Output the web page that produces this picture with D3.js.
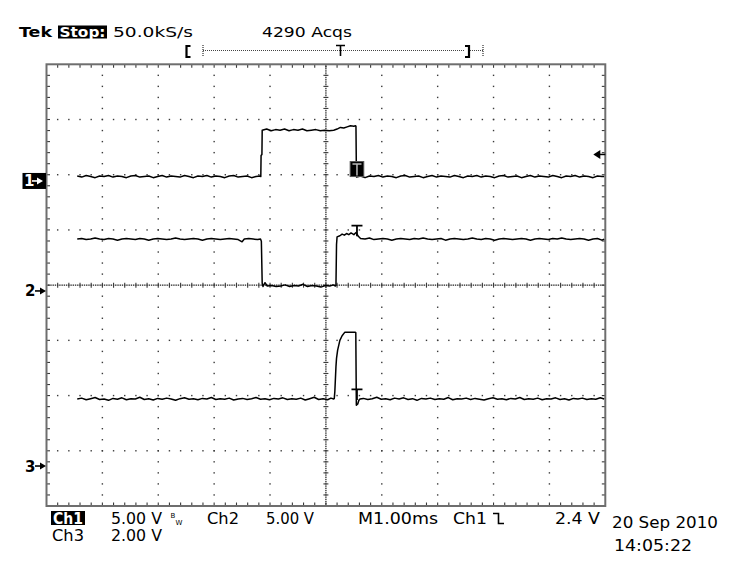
<!DOCTYPE html>
<html>
<head>
<meta charset="utf-8">
<script src="https://cdn.jsdelivr.net/npm/d3@7"></script>
<style>
body { margin: 0; background: #fff; }
text { font-family: "DejaVu Sans", sans-serif; }
</style>
</head>
<body>
<div id="scope"></div>
<script>
// waveforms: [time in ms, volts]
const ch1Trace = [
    [0.55, 0.45], [0.63, 0.35], [0.71, 0.5], [0.79, 0.4], [0.87, 0.3], [0.95, 0.45], [1.03, 0.4], [1.11, 0.5],
    [1.19, 0.35], [1.27, 0.45], [1.35, 0.4], [1.43, 0.3], [1.51, 0.45], [1.59, 0.5], [1.67, 0.35], [1.75, 0.4],
    [1.83, 0.45], [1.91, 0.3], [1.99, 0.4], [2.07, 0.5], [2.15, 0.35], [2.23, 0.45], [2.31, 0.4], [2.39, 0.35],
    [2.47, 0.5], [2.55, 0.4], [2.63, 0.3], [2.71, 0.45], [2.79, 0.4], [2.87, 0.5], [2.95, 0.35], [3.03, 0.45],
    [3.11, 0.4], [3.19, 0.3], [3.27, 0.45], [3.35, 0.5], [3.43, 0.35], [3.51, 0.4], [3.59, 0.45], [3.67, 0.3],
    [3.75, 0.4], [3.82, 0.45],
    [3.835, 0.4], [3.84, 2.3], [3.855, 2.4], [3.86, 4.6],
    [3.94, 4.7], [4.02, 4.55], [4.10, 4.65], [4.18, 4.6], [4.26, 4.7], [4.34, 4.55], [4.42, 4.65], [4.50, 4.6],
    [4.58, 4.7], [4.66, 4.55], [4.74, 4.6], [4.82, 4.65], [4.90, 4.55], [4.98, 4.6], [5.06, 4.55], [5.14, 4.6],
    [5.20, 4.7], [5.26, 4.85], [5.32, 4.8], [5.38, 4.9], [5.44, 5.0], [5.50, 4.95], [5.53, 5.0],
    [5.538, 4.95], [5.545, 1.0], [5.55, 0.35],
    [5.62, 0.45], [5.70, 0.3], [5.78, 0.45], [5.86, 0.4], [5.94, 0.5], [6.02, 0.35], [6.10, 0.45], [6.18, 0.4],
    [6.26, 0.3], [6.34, 0.45], [6.42, 0.5], [6.50, 0.35], [6.58, 0.4], [6.66, 0.45], [6.74, 0.3], [6.82, 0.4],
    [6.90, 0.5], [6.98, 0.35], [7.06, 0.45], [7.14, 0.4], [7.22, 0.35], [7.30, 0.5], [7.38, 0.4], [7.46, 0.3],
    [7.54, 0.45], [7.62, 0.4], [7.70, 0.5], [7.78, 0.35], [7.86, 0.45], [7.94, 0.4], [8.02, 0.3], [8.10, 0.45],
    [8.18, 0.5], [8.26, 0.35], [8.34, 0.4], [8.42, 0.45], [8.50, 0.3], [8.58, 0.4], [8.66, 0.5], [8.74, 0.35],
    [8.82, 0.45], [8.90, 0.4], [8.98, 0.35], [9.06, 0.5], [9.14, 0.4], [9.22, 0.3], [9.30, 0.45], [9.38, 0.4],
    [9.46, 0.5], [9.54, 0.35], [9.62, 0.45], [9.70, 0.4], [9.78, 0.3], [9.86, 0.45], [9.94, 0.4], [9.98, 0.4]
]

const ch2Trace = [
    [0.55, 4.7], [0.63, 4.75], [0.71, 4.65], [0.79, 4.7], [0.87, 4.8], [0.95, 4.7], [1.03, 4.65], [1.11, 4.75],
    [1.19, 4.7], [1.27, 4.6], [1.35, 4.7], [1.43, 4.75], [1.51, 4.7], [1.59, 4.65], [1.67, 4.75], [1.75, 4.7],
    [1.83, 4.6], [1.91, 4.7], [1.99, 4.75], [2.07, 4.7], [2.15, 4.65], [2.23, 4.7], [2.31, 4.8], [2.39, 4.7],
    [2.47, 4.65], [2.55, 4.7], [2.63, 4.75], [2.71, 4.7], [2.79, 4.6], [2.87, 4.7], [2.95, 4.75], [3.03, 4.7],
    [3.11, 4.65], [3.19, 4.7], [3.27, 4.75], [3.35, 4.7], [3.43, 4.65], [3.50, 4.45], [3.54, 4.7], [3.62, 4.75],
    [3.70, 4.7], [3.78, 4.65], [3.83, 4.7],
    [3.845, 4.5], [3.86, 0.7], [3.875, 0.4],
    [3.91, 0.75], [3.95, 0.45], [4.03, 0.5], [4.11, 0.4], [4.19, 0.45], [4.27, 0.55], [4.35, 0.4], [4.43, 0.5],
    [4.51, 0.45], [4.59, 0.6], [4.67, 0.4], [4.75, 0.5], [4.83, 0.45], [4.91, 0.35], [4.99, 0.5], [5.07, 0.45],
    [5.13, 0.55], [5.17, 0.45],
    [5.18, 0.5], [5.19, 4.2], [5.20, 4.9],
    [5.25, 5.0], [5.29, 5.15], [5.33, 5.05], [5.37, 5.2], [5.41, 5.1], [5.45, 5.25], [5.50, 5.1], [5.54, 5.3],
    [5.58, 4.95], [5.62, 4.75], [5.70, 4.7], [5.78, 4.8], [5.86, 4.65], [5.94, 4.7], [6.02, 4.75], [6.10, 4.7],
    [6.18, 4.6], [6.26, 4.7], [6.34, 4.75], [6.42, 4.7], [6.50, 4.65], [6.58, 4.75], [6.66, 4.7], [6.74, 4.8],
    [6.82, 4.7], [6.90, 4.65], [6.98, 4.7], [7.06, 4.75], [7.14, 4.6], [7.22, 4.7], [7.30, 4.75], [7.38, 4.7],
    [7.46, 4.65], [7.54, 4.7], [7.62, 4.8], [7.70, 4.7], [7.78, 4.65], [7.86, 4.75], [7.94, 4.7], [8.02, 4.6],
    [8.10, 4.7], [8.18, 4.75], [8.26, 4.7], [8.34, 4.65], [8.42, 4.7], [8.50, 4.75], [8.58, 4.7], [8.66, 4.6],
    [8.74, 4.7], [8.82, 4.75], [8.90, 4.7], [8.98, 4.65], [9.06, 4.75], [9.14, 4.7], [9.22, 4.8], [9.30, 4.7],
    [9.38, 4.65], [9.46, 4.7], [9.54, 4.75], [9.62, 4.7], [9.70, 4.6], [9.78, 4.7], [9.86, 4.75], [9.94, 4.6],
    [9.98, 4.7]
]

const ch3Trace = [
    [0.55, 2.43], [0.63, 2.46], [0.71, 2.4], [0.79, 2.44], [0.87, 2.48], [0.95, 2.41], [1.03, 2.43], [1.11, 2.38],
    [1.19, 2.45], [1.27, 2.42], [1.35, 2.47], [1.43, 2.4], [1.51, 2.44], [1.59, 2.43], [1.67, 2.49], [1.75, 2.41],
    [1.83, 2.44], [1.91, 2.39], [1.99, 2.45], [2.07, 2.42], [2.15, 2.46], [2.23, 2.43], [2.31, 2.38], [2.39, 2.44],
    [2.47, 2.47], [2.55, 2.42], [2.63, 2.44], [2.71, 2.4], [2.79, 2.45], [2.87, 2.43], [2.95, 2.48], [3.03, 2.41],
    [3.11, 2.44], [3.19, 2.42], [3.27, 2.46], [3.35, 2.39], [3.43, 2.43], [3.51, 2.45], [3.59, 2.41], [3.67, 2.44],
    [3.75, 2.48], [3.83, 2.42], [3.91, 2.44], [3.99, 2.4], [4.07, 2.45], [4.15, 2.43], [4.23, 2.47], [4.31, 2.41],
    [4.39, 2.44], [4.47, 2.42], [4.55, 2.46], [4.63, 2.39], [4.71, 2.44], [4.79, 2.49], [4.87, 2.41], [4.95, 2.44],
    [5.03, 2.4], [5.09, 2.46], [5.14, 2.43],
    [5.15, 2.45], [5.16, 2.7], [5.18, 3.6], [5.19, 3.9], [5.21, 4.2], [5.25, 4.55], [5.29, 4.72], [5.34, 4.85],
    [5.52, 4.85], [5.535, 4.83],
    [5.545, 2.2], [5.57, 2.25], [5.59, 2.38], [5.61, 2.43],
    [5.67, 2.45], [5.75, 2.41], [5.83, 2.44], [5.91, 2.49], [5.99, 2.42], [6.07, 2.44], [6.15, 2.4], [6.23, 2.46],
    [6.31, 2.43], [6.39, 2.47], [6.47, 2.41], [6.55, 2.44], [6.63, 2.38], [6.71, 2.45], [6.79, 2.43], [6.87, 2.46],
    [6.95, 2.41], [7.03, 2.44], [7.11, 2.42], [7.19, 2.48], [7.27, 2.4], [7.35, 2.44], [7.43, 2.43], [7.51, 2.46],
    [7.59, 2.41], [7.67, 2.45], [7.75, 2.42], [7.83, 2.39], [7.91, 2.44], [7.99, 2.47], [8.07, 2.42], [8.15, 2.44],
    [8.23, 2.4], [8.31, 2.45], [8.39, 2.43], [8.47, 2.48], [8.55, 2.41], [8.63, 2.44], [8.71, 2.42], [8.79, 2.46],
    [8.87, 2.4], [8.95, 2.44], [9.03, 2.43], [9.11, 2.47], [9.19, 2.41], [9.27, 2.44], [9.35, 2.39], [9.43, 2.45],
    [9.51, 2.43], [9.59, 2.46], [9.67, 2.41], [9.75, 2.44], [9.83, 2.42], [9.91, 2.47], [9.98, 2.43]
]

const channels = ["1", "2", "3"]
const voltsPerDiv = [5, 5, 2]
const groundDiv = [1.887, -0.105, -3.276]
const markerVolts = [0.4, 5.05, 2.43]   // level of each trace at the trigger point
const triggerTime = 5.556
const triggerLevel = 2.4

const headerLabels = ["Tek", "Stop:", "50.0kS/s", "4290 Acqs"]
const footerRow1 = ["Ch1", "5.00 V", "Ch2", "5.00 V", "M1.00ms", "Ch1", "2.4 V"]
const footerRow2 = ["Ch3", "2.00 V"]
const stamp = ["20 Sep 2010", "14:05:22"]

const width = 739, height = 565

const svg = d3.select("#scope").append("svg")
    .attr("width", width)
    .attr("height", height)
    .attr("viewBox", [0, 0, width, height])

// 10 x 8 division graticule
const x = d3.scaleLinear().domain([0, 10]).range([46.5, 605.3])
const y = d3.scaleLinear().domain([-4, 4]).range([506, 64.3])

const minorX = d3.range(0, 51).map(i => i / 5)
const minorY = d3.range(0, 41).map(i => -4 + i / 5)
const innerX = minorX.slice(1, -1)
const innerY = minorY.slice(1, -1)

const grid = svg.append("g").attr("fill", "#3a3a3a")

// dotted division lines
const dots = []
for (let i = 1; i < 10; i++) {
    if (i === 5) continue
    innerY.forEach(v => dots.push([x(i), y(v)]))
}
for (let j = -3; j < 4; j++) {
    if (j === 0) continue
    innerX.forEach(t => dots.push([x(t), y(j)]))
}
// center cross, fine dots
d3.range(1, 250).forEach(i => dots.push([x(i / 25), y(0)]))
d3.range(1, 200).forEach(i => dots.push([x(5), y(-4 + i / 25)]))

grid.selectAll(null)
    .data(dots)
    .join("rect")
    .attr("x", d => d[0] - 0.7)
    .attr("y", d => d[1] - 0.7)
    .attr("width", 1.4)
    .attr("height", 1.4)

// minor ticks on the center cross and on the border
const ticks = svg.append("g").attr("stroke", "#3a3a3a").attr("stroke-width", 1.1)
innerX.forEach(t => {
    ticks.append("line").attr("x1", x(t)).attr("x2", x(t)).attr("y1", y(0) - 2.5).attr("y2", y(0) + 2.5)
    ticks.append("line").attr("x1", x(t)).attr("x2", x(t)).attr("y1", y(4)).attr("y2", y(4) + 3.5)
    ticks.append("line").attr("x1", x(t)).attr("x2", x(t)).attr("y1", y(-4)).attr("y2", y(-4) - 3.5)
})
innerY.forEach(v => {
    ticks.append("line").attr("x1", x(5) - 2.5).attr("x2", x(5) + 2.5).attr("y1", y(v)).attr("y2", y(v))
    ticks.append("line").attr("x1", x(0)).attr("x2", x(0) + 3.5).attr("y1", y(v)).attr("y2", y(v))
    ticks.append("line").attr("x1", x(10)).attr("x2", x(10) - 3.5).attr("y1", y(v)).attr("y2", y(v))
})

svg.append("rect")
    .attr("x", x(0))
    .attr("y", y(4))
    .attr("width", x(10) - x(0))
    .attr("height", y(-4) - y(4))
    .attr("fill", "none")
    .attr("stroke", "#6e6e6e")
    .attr("stroke-width", 2)

// traces
const traces = [ch1Trace, ch2Trace, ch3Trace]
const chY = (k, v) => y(groundDiv[k] + v / voltsPerDiv[k])

svg.append("g")
    .attr("fill", "none")
    .attr("stroke", "#000")
    .attr("stroke-width", 1.5)
    .attr("stroke-linejoin", "round")
    .selectAll()
    .data(traces)
    .join("path")
    .attr("d", (d, k) => d3.line().x(p => x(p[0])).y(p => chY(k, p[1]))(d))

// trigger point markers on each trace
const tx = x(triggerTime)
channels.forEach((c, k) => {
    const base = chY(k, markerVolts[k])
    if (k === 0) {
        svg.append("rect")
            .attr("x", tx - 6.8).attr("y", base - 15)
            .attr("width", 13.6).attr("height", 15)
            .attr("fill", "#000").attr("stroke", "#555")
        svg.append("path")
            .attr("d", `M${tx - 4.5},${base - 12.5}H${tx + 4.5}M${tx},${base - 12.5}V${base - 1}`)
            .attr("stroke", "#bbb").attr("stroke-width", 1.5).attr("fill", "none")
    } else {
        svg.append("path")
            .attr("d", `M${tx - 5.5},${base - 9.5}H${tx + 5.5}M${tx},${base - 9.5}V${base + 1}`)
            .attr("stroke", "#000").attr("stroke-width", 1.8).attr("fill", "none")
    }
})

// trigger level arrow at right edge
const ty = chY(0, triggerLevel)
svg.append("path")
    .attr("d", `M${x(10) - 12},${ty}L${x(10) - 5},${ty - 4.5}V${ty + 4.5}Z`)
    .attr("fill", "#000")
svg.append("line")
    .attr("x1", x(10) - 6).attr("x2", x(10)).attr("y1", ty).attr("y2", ty)
    .attr("stroke", "#000").attr("stroke-width", 1.5)

// channel ground markers on the left
channels.forEach((c, k) => {
    const gy = y(groundDiv[k])
    const g = svg.append("g")
    let col = "#000"
    if (k === 0) {
        g.append("rect").attr("x", 22.5).attr("y", gy - 8).attr("width", 23.5).attr("height", 16).attr("fill", "#000")
        col = "#fff"
    }
    g.append("text")
        .attr("x", k === 0 ? 24 : 25)
        .attr("y", gy + 5.5)
        .attr("font-size", 15)
        .attr("font-weight", "bold")
        .attr("fill", col)
        .text(c)
    const ax = k === 0 ? 32 : 35
    g.append("path")
        .attr("d", `M${ax},${gy}H${ax + 7}`)
        .attr("stroke", col).attr("stroke-width", 1.6)
    g.append("path")
        .attr("d", `M${ax + 11},${gy}L${ax + 5},${gy - 3.5}V${gy + 3.5}Z`)
        .attr("fill", col)
})

// header
const head = svg.append("g").attr("font-size", 14)
head.append("text").attr("x", 19).attr("y", 37).attr("font-weight", "bold")
    .attr("textLength", 33).attr("lengthAdjust", "spacingAndGlyphs").text(headerLabels[0])
head.append("rect").attr("x", 58).attr("y", 25.5).attr("width", 49).attr("height", 13).attr("fill", "#000")
head.append("text").attr("x", 59.5).attr("y", 37).attr("font-weight", "bold").attr("fill", "#fff")
    .attr("textLength", 46).attr("lengthAdjust", "spacingAndGlyphs").text(headerLabels[1])
head.append("text").attr("x", 113).attr("y", 37)
    .attr("textLength", 80).attr("lengthAdjust", "spacingAndGlyphs").text(headerLabels[2])
head.append("text").attr("x", 262).attr("y", 37)
    .attr("textLength", 90).attr("lengthAdjust", "spacingAndGlyphs").text(headerLabels[3])

// record view bar
const rec = svg.append("g").attr("fill", "none").attr("stroke", "#000")
rec.append("path").attr("d", "M190.5,46H186.5V57H190.5").attr("stroke-width", 2.2)
rec.append("path").attr("d", "M465,46H469V57H465").attr("stroke-width", 2.2)
rec.append("path").attr("d", "M203,45V57M483,45V57").attr("stroke-dasharray", "1,1")
rec.append("path").attr("d", "M203,50.5H465M470,50.5H483").attr("stroke-dasharray", "1,1").attr("stroke", "#444")
rec.append("path").attr("d", "M336,45.5H345M340.5,45.5V56").attr("stroke-width", 1.6)

// footer readouts
const foot = svg.append("g").attr("font-size", 15).attr("font-family", "DejaVu Sans Condensed")
const row1X = [53, 111, 207, 266, 358, 453, 555]
const row1W = [30, 51, 32, 48, 80, 34, 45]
foot.append("rect").attr("x", 51).attr("y", 511).attr("width", 34).attr("height", 14).attr("fill", "#000")
footerRow1.forEach((s, i) => {
    foot.append("text")
        .attr("x", row1X[i]).attr("y", 523.5)
        .attr("fill", i === 0 ? "#fff" : "#000")
        .attr("font-weight", i === 0 ? "bold" : "normal")
        .attr("textLength", row1W[i]).attr("lengthAdjust", "spacingAndGlyphs")
        .text(s)
})
footerRow2.forEach((s, i) => {
    foot.append("text")
        .attr("x", [52, 111][i]).attr("y", 541)
        .attr("textLength", [32, 51][i]).attr("lengthAdjust", "spacingAndGlyphs")
        .text(s)
})
// bandwidth limit glyph and falling edge symbol
foot.append("text").attr("x", 170.5).attr("y", 518).attr("font-size", 7).text("B")
foot.append("text").attr("x", 175.5).attr("y", 525).attr("font-size", 7).text("W")
foot.append("path").attr("d", "M493,513.5H498.5V523.5H504")
    .attr("fill", "none").attr("stroke", "#000").attr("stroke-width", 1.6)

svg.append("text").attr("x", 612).attr("y", 528).attr("font-size", 15)
    .attr("textLength", 106).attr("lengthAdjust", "spacingAndGlyphs").text(stamp[0])
svg.append("text").attr("x", 614).attr("y", 551).attr("font-size", 15)
    .attr("textLength", 78).attr("lengthAdjust", "spacingAndGlyphs").text(stamp[1])
</script>
</body>
</html>
